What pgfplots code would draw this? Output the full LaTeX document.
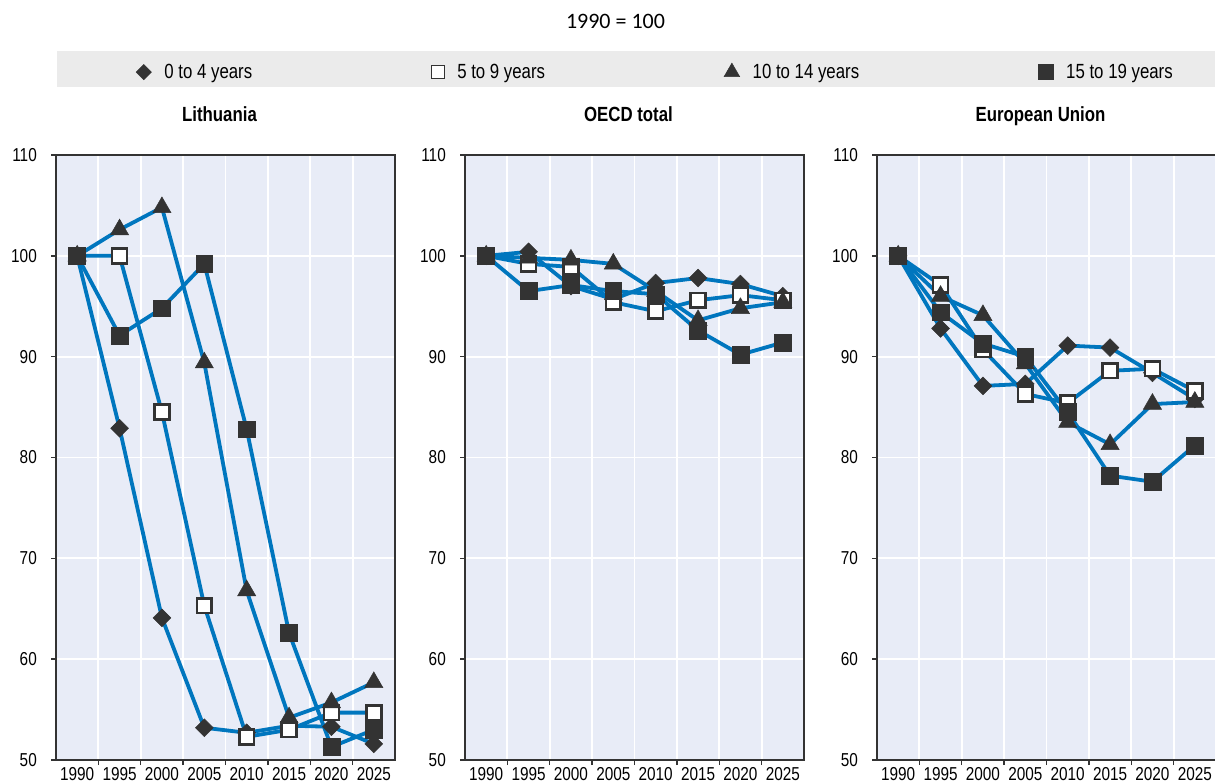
\documentclass[border=0pt]{standalone}
\usepackage{fontspec}
\setmainfont{Liberation Sans}[FakeStretch=0.82]
\newfontfamily\subfont{Carlito}
\usepackage{pgfplots}
\pgfplotsset{compat=1.18}
\usepackage{pgfplotstable}
\definecolor{oecdblue}{RGB}{0,118,190}
\definecolor{bgblue}{RGB}{232,236,247}
\definecolor{mk}{RGB}{51,51,51}
\definecolor{band}{RGB}{235,235,235}

\pgfplotstableread{
x d s t f
0 100 100 100 100
1 82.9 100 102.6 92.1
2 64.1 84.5 104.8 94.8
3 53.2 65.3 89.4 99.2
4 52.7 52.3 66.8 82.8
5 53.4 53.0 54.2 62.6
6 53.3 54.7 55.7 51.3
7 51.6 54.7 57.7 53.0
}\lith
\pgfplotstableread{
x d s t f
0 100 100 100 100
1 100.4 99.2 99.8 96.5
2 97.0 98.9 99.6 97.1
3 95.7 95.4 99.2 96.5
4 97.3 94.5 96.5 96.2
5 97.8 95.6 93.6 92.6
6 97.2 96.1 94.8 90.2
7 96.0 95.6 95.4 91.4
}\oecd
\pgfplotstableread{
x d s t f
0 100 100 100 100
1 92.8 97.1 96.0 94.4
2 87.1 90.7 94.1 91.3
3 87.3 86.3 89.3 90.0
4 91.1 85.4 83.5 84.5
5 90.9 88.6 81.3 78.2
6 88.4 88.8 85.3 77.6
7 85.8 86.6 85.5 81.2
}\eu

\pgfplotsset{
  panel/.style={
    scale only axis, width=339pt, height=605pt, anchor=north west,
    xmin=-0.5, xmax=7.5, ymin=50, ymax=110,
    ytick={50,60,...,110},
    xtick={0.5,1.5,...,6.5}, xticklabels={,,,,,,,},
    extra x ticks={0,1,2,3,4,5,6,7},
    extra x tick labels={1990,1995,2000,2005,2010,2015,2020,2025},
    extra x tick style={grid=none, major tick length=0pt},
    axis background/.style={fill=bgblue},
    grid=major, grid style={white, line width=1.8pt},
    axis line style={mk, line width=1.4pt},
    tick align=outside, tick pos=left, major tick length=5pt,
    tick style={mk, line width=1.4pt},
    ticklabel style={font=\fontsize{18.7}{20}\selectfont},
    /pgf/number format/assume math mode=true,
    yticklabel style={anchor=east, inner sep=0pt, xshift=-14pt},
    xticklabel style={anchor=north, inner sep=0pt, yshift=-7pt},
    title style={font=\bfseries\fontsize{20.5}{24}\selectfont, at={(0.5,1)}, anchor=base, yshift=28pt, xshift=-6pt},
    clip=false,
  },
  ln/.style={oecdblue, line width=3.8pt, no marks, forget plot},
  mD/.style={only marks, forget plot, mark=square*, mark size=6.3pt, mark options={rotate=45, fill=mk, draw=mk, line width=0.5pt}},
  mS/.style={only marks, forget plot, mark=square*, mark size=7.4pt, mark options={fill=white, draw=mk, line width=2.6pt}},
  mT/.style={only marks, forget plot, mark=triangle*, mark size=10.5pt, mark options={fill=mk, draw=mk, line width=0.5pt}},
  mF/.style={only marks, forget plot, mark=square*, mark size=8.4pt, mark options={fill=mk, draw=mk, line width=0.5pt}},
}

\newcommand{\drawpanel}[1]{%
  \addplot[ln] table[x=x,y=d] {#1};
  \addplot[ln] table[x=x,y=s] {#1};
  \addplot[ln] table[x=x,y=t] {#1};
  \addplot[ln] table[x=x,y=f] {#1};
  \addplot[mD] table[x=x,y=d] {#1};
  \addplot[mS] table[x=x,y=s] {#1};
  \addplot[mT] table[x=x,y=t] {#1};
  \addplot[mF] table[x=x,y=f] {#1};
}

\begin{document}
\begin{tikzpicture}
\path[use as bounding box] (0pt,0pt) rectangle (1215pt,-784pt);
\clip (0pt,0pt) rectangle (1215pt,-784pt);
\node[anchor=base, font=\subfont\fontsize{22}{26}\selectfont] at (615.5pt,-29pt) {1990 = 100};
\fill[band] (57pt,-51pt) rectangle (1215pt,-87pt);

\begin{axis}[panel, at={(56pt,-155pt)}, title={Lithuania},
  legend columns=4,
  legend style={at={(0.227,1.137)}, anchor=west, draw=none, fill=none,
    font=\fontsize{20.5}{24}\selectfont,
    /tikz/every even column/.append style={column sep=177pt},
    /tikz/every odd column/.append style={column sep=11pt}},
]
\addlegendimage{only marks, mark=square*, mark size=5.4pt, mark options={rotate=45, fill=mk, draw=mk, line width=0.5pt}}
\addlegendentry{0 to 4 years}
\addlegendimage{only marks, mark=square*, mark size=6.5pt, mark options={fill=white, draw=mk, line width=1.5pt}}
\addlegendentry{5 to 9 years}
\addlegendimage{only marks, mark=triangle*, mark size=9pt, mark options={fill=mk, draw=mk, line width=0.5pt}}
\addlegendentry{10 to 14 years}
\addlegendimage{only marks, mark=square*, mark size=7.5pt, mark options={fill=mk, draw=mk, line width=0.5pt}}
\addlegendentry{15 to 19 years}
\drawpanel{\lith}
\end{axis}

\begin{axis}[panel, at={(465pt,-155pt)}, title={OECD total}]
\drawpanel{\oecd}
\end{axis}

\begin{axis}[panel, at={(877pt,-155pt)}, title={European Union}]
\drawpanel{\eu}
\end{axis}
\end{tikzpicture}
\end{document}
